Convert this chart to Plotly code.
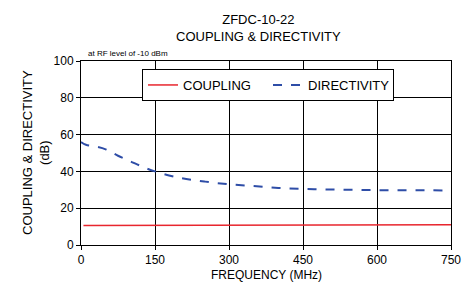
import plotly.graph_objects as go

freq_dir = [0, 10, 30, 50, 75, 100, 125, 150, 200, 250, 300, 350, 400, 450, 500, 550, 600, 650, 700, 750]
directivity = [56, 54.5, 53.5, 52, 48.5, 45.5, 42.5, 40, 36.5, 34.5, 33, 32, 31, 30.5, 30.2, 30, 29.8, 29.8, 29.8, 29.5]
freq_cpl = [5, 50, 100, 150, 200, 300, 400, 500, 600, 700, 750]
coupling = [10.6, 10.6, 10.7, 10.7, 10.8, 10.8, 10.9, 10.9, 11.0, 11.0, 11.0]

x_ticks = [0, 150, 300, 450, 600, 750]
y_ticks = [0, 20, 40, 60, 80, 100]

font = "Liberation Sans, Arial, sans-serif"
W, H = 476, 283
L, R, T, B = 81, 25, 61, 38
pw, ph = W - L - R, H - T - B

fig = go.Figure()
fig.add_trace(go.Scatter(x=freq_cpl, y=coupling, mode="lines", name="COUPLING",
                         line=dict(color="#E8262E", width=1.5)))
fig.add_trace(go.Scatter(x=freq_dir, y=directivity, mode="lines", name="DIRECTIVITY",
                         line=dict(color="#2E4DA7", width=2, dash="dash"), line_shape="spline"))

fig.update_layout(
    width=W, height=H,
    margin=dict(l=L, r=R, t=T, b=B, autoexpand=False),
    paper_bgcolor="white", plot_bgcolor="white",
    font=dict(family=font, size=12, color="black"),
    showlegend=True,
    legend=dict(orientation="h", x=(142 - L) / pw, xanchor="left", y=(H - B - 69) / ph, yanchor="top",
                bordercolor="black", borderwidth=1, bgcolor="white",
                font=dict(size=13), itemwidth=30, tracegroupgap=0,
                entrywidth=80, entrywidthmode="pixels"),
    xaxis=dict(range=[0, 750], tickvals=x_ticks, showgrid=True, gridcolor="black", gridwidth=1,
               showline=True, linecolor="black", linewidth=1, mirror=True, automargin=False,
               ticks="outside", ticklen=4, tickcolor="black", zeroline=False,
               tickfont=dict(size=12)),
    yaxis=dict(range=[0, 100], tickvals=y_ticks, showgrid=True, gridcolor="black", gridwidth=1,
               showline=True, linecolor="black", linewidth=1, mirror=True, automargin=False,
               ticks="outside", ticklen=4, tickcolor="black", zeroline=False,
               tickfont=dict(size=12)),
    annotations=[
        dict(text="ZFDC-10-22<br>COUPLING & DIRECTIVITY", x=(258 - L) / pw, y=1, xref="paper", yref="paper",
             xanchor="center", yanchor="top", yshift=T - 10, showarrow=False, font=dict(size=13)),
        dict(text="at RF level of -10 dBm", x=(86 - L) / pw, y=1.0, xref="paper", yref="paper",
             xanchor="left", yanchor="bottom", yshift=1, showarrow=False, font=dict(size=8)),
        dict(text="FREQUENCY (MHz)", x=0.5, y=0, xref="paper", yref="paper",
             xanchor="center", yanchor="top", yshift=-21, showarrow=False, font=dict(size=12)),
        dict(text="COUPLING & DIRECTIVITY<br>(dB)", x=(36 - L) / pw, y=0.5, xref="paper", yref="paper",
             xanchor="center", yanchor="middle", textangle=-90, showarrow=False, font=dict(size=13)),
    ],
)

fig.write_html("out.html", post_script="document.body.style.margin='0';",
               config={"displayModeBar": False})
